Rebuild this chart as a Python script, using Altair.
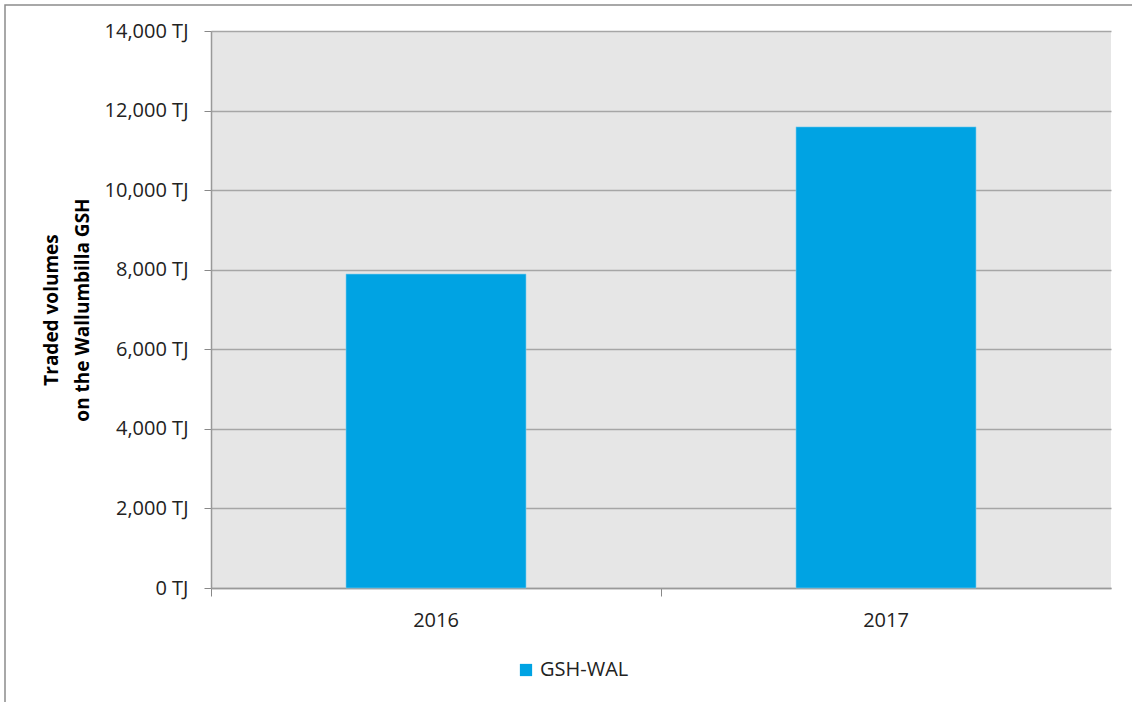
import altair as alt
import pandas as pd

years = ["2016", "2017"]
volumes = [7890, 11590]
series = ["GSH-WAL", "GSH-WAL"]

df = pd.DataFrame({"year": years, "volume": volumes, "series": series})

FONT = "Open Sans"

bars = alt.Chart(df).mark_bar(width=alt.RelativeBandSize(0.4), stroke="#7fcdee", strokeWidth=0.6).encode(
    x=alt.X("year:N", title=None,
            scale=alt.Scale(paddingInner=0, paddingOuter=0),
            axis=alt.Axis(labelAngle=0, bandPosition=0, labelPadding=14, labelFontSize=20,
                          labelFont=FONT, labelColor="#222222", tickSize=8,
                          tickColor="#888888", domainColor="#999999", domainWidth=1.5,
                          labelBound=False)),
    y=alt.Y("volume:Q",
            scale=alt.Scale(domain=[0, 14000]),
            axis=alt.Axis(values=list(range(0, 14001, 2000)),
                          labelExpr="format(datum.value, ',') + ' TJ'",
                          labelFontSize=20, labelFont=FONT, labelColor="#222222",
                          labelPadding=16, tickSize=7, tickColor="#888888",
                          domainColor="#999999", domainWidth=1.5,
                          gridColor="#a6a6a6", gridWidth=1.5,
                          title=["Traded volumes", "on the Wallumbilla GSH"],
                          titleFont=FONT, titleFontSize=19, titleFontWeight="bold",
                          titleColor="#000000", titleLineHeight=31, titlePadding=12)),
    color=alt.Color("series:N", scale=alt.Scale(range=["#00A3E3"]),
                    legend=alt.Legend(title=None, orient="none", legendX=305, legendY=629,
                                      symbolType="square", symbolSize=150,
                                      symbolStrokeWidth=0,
                                      labelFont=FONT, labelFontSize=20, labelColor="#222222")),
)

frame = alt.Chart(pd.DataFrame({"a": [0]})).mark_rect(fill=None, stroke="#8c8c8c", strokeWidth=1.5).encode(
    x=alt.value(-206), x2=alt.value(960), y=alt.value(-26), y2=alt.value(720)
)

chart = alt.layer(frame, bars).properties(
    width=900, height=557,
    padding={"left": 211, "top": 31, "right": 21, "bottom": 114},
    autosize=alt.AutoSizeParams(type="none"),
    background="white",
).configure_view(fill="#e6e6e6", stroke=None)

chart.save("out.html", embed_options={"renderer": "svg", "actions": False})
